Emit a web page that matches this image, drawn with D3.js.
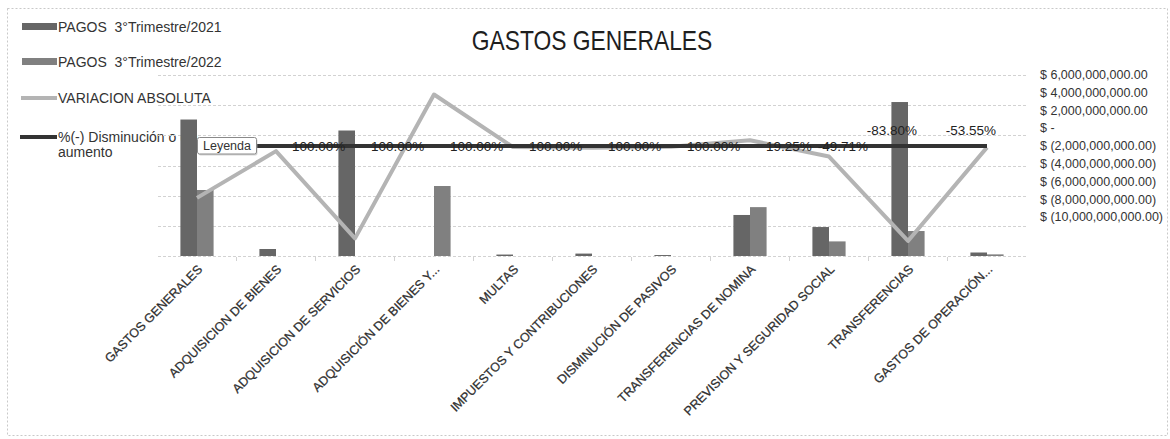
<!DOCTYPE html>
<html>
<head>
<meta charset="utf-8">
<script src="https://cdn.jsdelivr.net/npm/d3@7"></script>
<style>
  html, body { margin: 0; padding: 0; background: #fff; }
  svg { display: block; }
  text { font-family: "Liberation Sans", Arial, sans-serif; }
</style>
</head>
<body>
<svg id="chart" width="1170" height="439"></svg>
<script>
// ---------- DATA ----------
const categories = [
  "GASTOS GENERALES",
  "ADQUISICION DE BIENES",
  "ADQUISICION DE SERVICIOS",
  "ADQUISICIÓN DE BIENES Y...",
  "MULTAS",
  "IMPUESTOS Y CONTRIBUCIONES",
  "DISMINUCIÓN DE PASIVOS",
  "TRANSFERENCIAS DE NOMINA",
  "PREVISION Y SEGURIDAD SOCIAL",
  "TRANSFERENCIAS",
  "GASTOS DE OPERACIÓN..."
];
const pagos2021 = [11.31e9, 0.58e9, 10.40e9, 0, 0.12e9, 0.20e9, 0.08e9, 3.40e9, 2.40e9, 12.76e9, 0.29e9];
const pagos2022 = [5.47e9, 0, 0, 5.80e9, 0, 0, 0, 4.05e9, 1.21e9, 2.07e9, 0.135e9];
const variacionAbsoluta = [-5.84e9, -0.58e9, -10.40e9, 5.80e9, -0.12e9, -0.20e9, -0.08e9, 0.65e9, -1.19e9, -10.69e9, -0.155e9];
const porcentaje = [-0.5163, 1, 1, 1, 1, 1, 1, 0.1925, -0.4971, -0.838, -0.5355];
// label placement per point ("none" = covered by the "Leyenda" tooltip in the source)
const labelPlacement = ["none","right","right","right","right","right","right","right","center","above","above"];
const primaryTicks = [0, 2.5e9, 5e9, 7.5e9, 10e9, 12.5e9, 15e9];
const secondaryTicks = [6e9, 4e9, 2e9, 0, -2e9, -4e9, -6e9, -8e9, -10e9];
const seriesNames = ["PAGOS  3°Trimestre/2021", "PAGOS  3°Trimestre/2022", "VARIACION ABSOLUTA", "%(-) Disminución o (+)", "aumento"];
const chartTitle = "GASTOS GENERALES";

// ---------- STYLE ----------
const C2021 = "#666666", C2022 = "#808080", CVAR = "#b4b4b4", CPCT = "#333333";

const svg = d3.select("#chart");

// outer chart border (dotted)
svg.append("rect").attr("x", 7.5).attr("y", 8.5).attr("width", 1160).attr("height", 427)
  .attr("fill", "none").attr("stroke", "#c9c9c9").attr("stroke-dasharray", "2,2");

// legend (drawn under the plot, as in the source)
const lg = svg.append("g").attr("font-size", 14).attr("fill", "#333");
lg.append("rect").attr("x", 22).attr("y", 23).attr("width", 35).attr("height", 7).attr("fill", C2021);
lg.append("rect").attr("x", 22).attr("y", 58).attr("width", 35).attr("height", 7).attr("fill", C2022);
lg.append("line").attr("x1", 21).attr("x2", 57).attr("y1", 98).attr("y2", 98).attr("stroke", CVAR).attr("stroke-width", 4);
lg.append("line").attr("x1", 20).attr("x2", 57).attr("y1", 137).attr("y2", 137).attr("stroke", CPCT).attr("stroke-width", 4);
const ly = [32, 67, 103, 142, 157];
lg.selectAll("text").data(seriesNames).join("text")
  .attr("x", 58).attr("y", (d, i) => ly[i])
  .style("white-space", "pre")
  .text(d => d);

// scales
const x = d3.scaleBand().domain(categories).range([157.5, 1026.5]).paddingInner(0.58).paddingOuter(0.29);
const xs = d3.scaleBand().domain(["2021", "2022"]).range([0, x.bandwidth()]);
const cx = c => x(c) + x.bandwidth() / 2;
const yL = d3.scaleLinear().domain([0, 15e9]).range([256, 75]);
const yR = d3.scaleLinear().domain([-10e9, 6e9]).range([234.8, 92.7]);

// gridlines (primary axis)
svg.append("g").selectAll("line").data(primaryTicks).join("line")
  .attr("x1", 158).attr("x2", 1026)
  .attr("y1", d => Math.round(yL(d)) + 0.5).attr("y2", d => Math.round(yL(d)) + 0.5)
  .attr("stroke", "#d2d2d2").attr("stroke-dasharray", "3,2");

// category tick marks
svg.append("g").selectAll("line").data(categories.slice(1)).join("line")
  .attr("x1", d => x(d) - x.step() * x.paddingInner() / 2)
  .attr("x2", d => x(d) - x.step() * x.paddingInner() / 2)
  .attr("y1", 257).attr("y2", 261).attr("stroke", "#d2d2d2");

// bars
const barData = categories.map((c, i) => [
  {c, k: "2021", v: pagos2021[i]},
  {c, k: "2022", v: pagos2022[i]}
]).flat();
svg.append("g").selectAll("rect").data(barData).join("rect")
  .attr("x", d => x(d.c) + xs(d.k))
  .attr("width", xs.bandwidth())
  .attr("y", d => yL(d.v))
  .attr("height", d => yL(0) - yL(d.v))
  .attr("fill", d => d.k === "2021" ? C2021 : C2022);

// lines
const line = d3.line().x(d => cx(d.c)).y(d => yR(d.v));
svg.append("path")
  .datum(categories.map((c, i) => ({c, v: variacionAbsoluta[i]})))
  .attr("d", line).attr("fill", "none").attr("stroke", CVAR).attr("stroke-width", 4)
  .attr("stroke-linejoin", "round");
svg.append("path")
  .datum(categories.map((c, i) => ({c, v: porcentaje[i]})))
  .attr("d", line).attr("fill", "none").attr("stroke", CPCT).attr("stroke-width", 4);

// percent data labels
const pf = v => d3.format(".2%")(v).replace("\u2212", "-");
const lblX = {right: 16, center: 14, above: -16};
svg.append("g").selectAll("text")
  .data(categories.map((c, i) => ({c, v: porcentaje[i], p: labelPlacement[i]})).filter(d => d.p !== "none"))
  .join("text")
  .attr("x", d => cx(d.c) + lblX[d.p])
  .attr("y", d => d.p === "above" ? yR(d.v) - 11 : yR(d.v) + 5)
  .attr("text-anchor", d => d.p === "right" ? "start" : "middle")
  .attr("font-size", 13.5).attr("fill", "#222")
  .text(d => pf(d.v));

// category labels
svg.append("g").selectAll("text").data(categories).join("text")
  .attr("transform", d => `translate(${cx(d) + 3},267) rotate(-45)`)
  .attr("text-anchor", "end").attr("dy", "0.35em")
  .attr("font-size", 12.5).attr("fill", "#2e2e2e")
  .attr("stroke", "#2e2e2e").attr("stroke-width", 0.25)
  .text(d => d);

// right axis ($); labels sit 18px above their tick positions as in the source
const moneyFmt = d3.format(",.2f");
const fmt = v => v === 0 ? "$ -" : v > 0 ? "$ " + moneyFmt(v) : "$ (" + moneyFmt(-v) + ")";
const axR = svg.append("g").attr("transform", "translate(1040,-18)")
  .call(d3.axisRight(yR).tickValues(secondaryTicks).tickSize(0).tickPadding(0).tickFormat(fmt));
axR.select(".domain").remove();
axR.selectAll("text").attr("font-size", 12.5).attr("fill", "#333")
  .attr("font-family", "'Liberation Sans', Arial, sans-serif");

// title (condensed like the source face)
svg.append("text").attr("transform", "translate(592,50) scale(0.83,1)").attr("text-anchor", "middle")
  .attr("font-size", 27.5).attr("fill", "#1e1e1e").text(chartTitle);

// "Leyenda" tooltip box
const tip = svg.append("g").attr("transform", "translate(197,137)");
tip.append("rect").attr("x", 1.5).attr("y", 1.5).attr("width", 59).attr("height", 17).attr("rx", 2)
  .attr("fill", "#bbb").attr("opacity", 0.6);
tip.append("rect").attr("x", 0.5).attr("y", 0.5).attr("width", 59).attr("height", 16.5).attr("rx", 2)
  .attr("fill", "#fff").attr("stroke", "#8a8a8a");
tip.append("text").attr("x", 30).attr("y", 13).attr("text-anchor", "middle")
  .attr("font-size", 12.5).attr("fill", "#333").text("Leyenda");
</script>
</body>
</html>
